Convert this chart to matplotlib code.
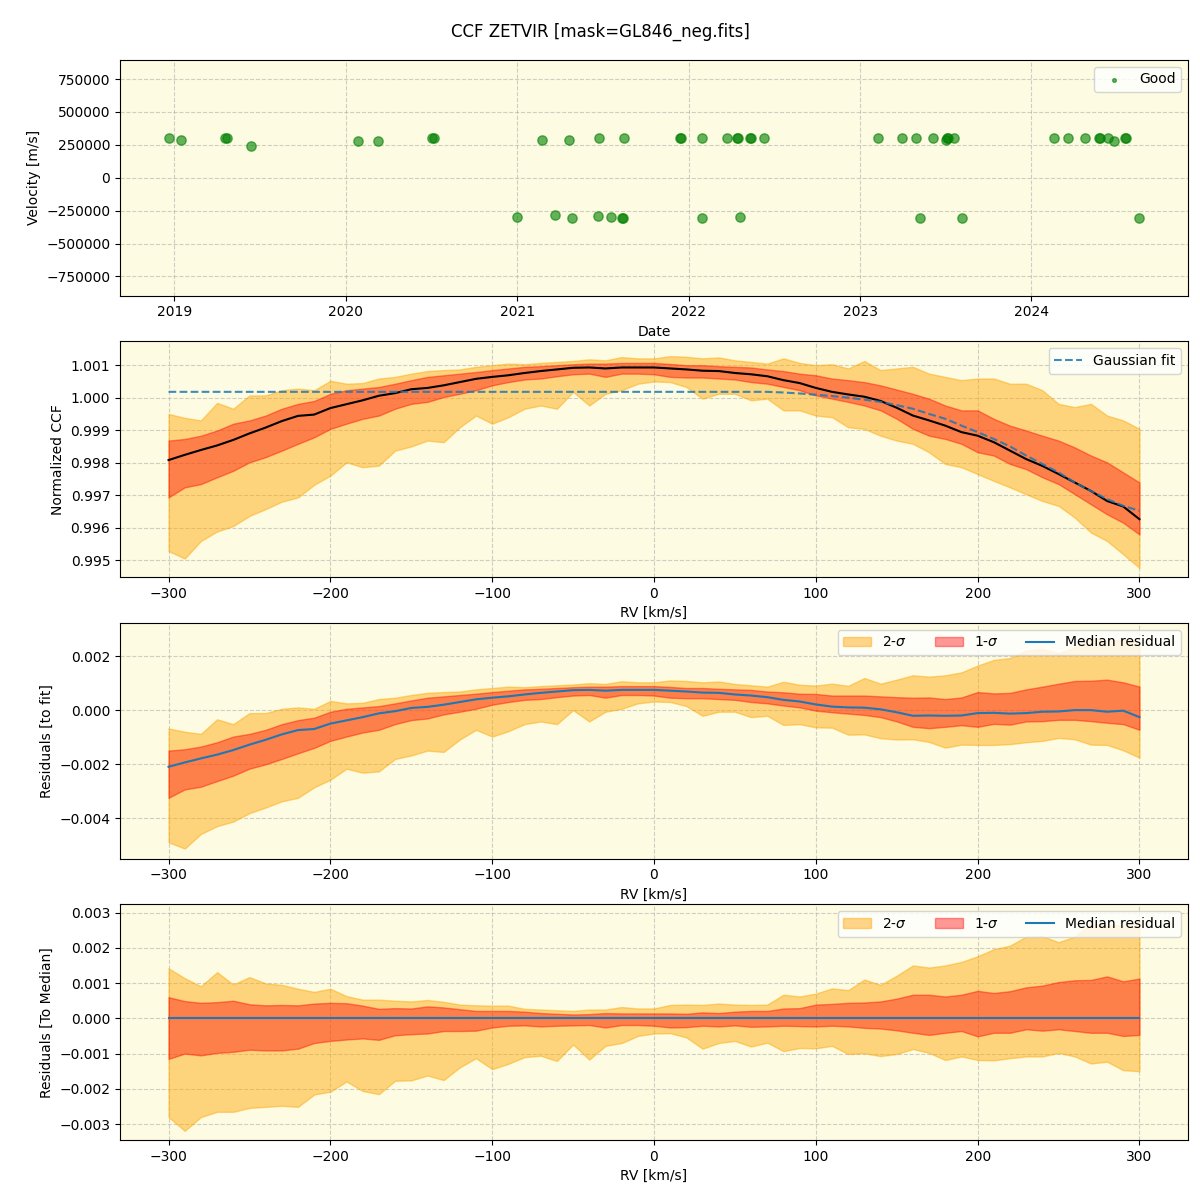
import numpy as np
import pandas as pd
import matplotlib
matplotlib.use("Agg")
import matplotlib.pyplot as plt
import matplotlib.dates as mdates

# ---------------- data ----------------
obs_dates = [
    "2018-12-20", "2019-01-16", "2019-04-20", "2019-04-23", "2019-06-13",
    "2020-01-27", "2020-03-10", "2020-07-03", "2020-07-07",
    "2021-02-22", "2021-04-22", "2021-06-23", "2021-08-17",
    "2021-12-13", "2021-12-15", "2022-01-29", "2022-03-24", "2022-04-14",
    "2022-04-16", "2022-05-12", "2022-05-14", "2022-06-11",
    "2023-02-08", "2023-03-31", "2023-04-30", "2023-06-05", "2023-07-03",
    "2023-07-05", "2023-07-07", "2023-07-21",
    "2024-02-18", "2024-03-18", "2024-04-24", "2024-05-24", "2024-05-26",
    "2024-06-13", "2024-06-24", "2024-07-19", "2024-07-21",
    "2021-01-01", "2021-03-23", "2021-04-27", "2021-06-21", "2021-07-20",
    "2021-08-12", "2021-08-14", "2022-01-29", "2022-04-21", "2023-05-08",
    "2023-08-07", "2024-08-18",
]
obs_velocity = [
    301000, 286000, 301000, 301000, 240000,
    278000, 278000, 301000, 301000,
    286000, 286000, 301000, 301000,
    301000, 301000, 301000, 301000, 301000,
    301000, 301000, 301000, 301000,
    301000, 301000, 301000, 301000, 288000,
    301000, 301000, 301000,
    301000, 301000, 301000, 301000, 301000,
    301000, 278000, 301000, 301000,
    -296000, -281000, -306000, -291000, -296000,
    -306000, -306000, -306000, -299000, -306000,
    -306000, -306000,
]

rv = np.arange(-300, 301, 10)

ccf_median = [
    0.99808, 0.99824, 0.99839, 0.99853, 0.99870, 0.99890, 0.99908, 0.99928, 0.99944, 0.99948,
    0.99968, 0.99980, 0.99992, 1.00006, 1.00014, 1.00026, 1.00030, 1.00038, 1.00048, 1.00058,
    1.00064, 1.00069, 1.00076, 1.00082, 1.00087, 1.00092, 1.00093, 1.00090, 1.00093, 1.00093,
    1.00093,
    1.00090, 1.00087, 1.00083, 1.00082, 1.00076, 1.00072, 1.00066, 1.00054, 1.00045, 1.00030,
    1.00018, 1.00010, 1.00003, 0.99990, 0.99969, 0.99945, 0.99930, 0.99914, 0.99894, 0.99883,
    0.99863, 0.99837, 0.99811, 0.99790, 0.99765, 0.99739, 0.99713, 0.99682, 0.99665, 0.99626,
]

gauss_fit = [
    1.00018, 1.00018, 1.00018, 1.00018, 1.00018, 1.00018, 1.00018, 1.00018, 1.00018, 1.00018,
    1.00018, 1.00018, 1.00018, 1.00018, 1.00018, 1.00018, 1.00018, 1.00018, 1.00018, 1.00018,
    1.00018, 1.00018, 1.00018, 1.00018, 1.00018, 1.00018, 1.00018, 1.00018, 1.00018, 1.00018,
    1.00018,
    1.00018, 1.00018, 1.00018, 1.00018, 1.00018, 1.00018, 1.00018, 1.00016, 1.00013, 1.00009,
    1.00005, 1.00000, 0.99994, 0.99987, 0.99977, 0.99966, 0.99950, 0.99935, 0.99914, 0.99894,
    0.99873, 0.99850, 0.99822, 0.99796, 0.99770, 0.99739, 0.99713, 0.99688, 0.99667, 0.99652,
]

ccf_2sig_hi = [
    0.99950, 0.99938, 0.99930, 0.99984, 0.99966, 1.00007, 1.00007, 1.00023, 1.00028, 1.00023,
    1.00052, 1.00043, 1.00045, 1.00059, 1.00064, 1.00074, 1.00082, 1.00085, 1.00087, 1.00095,
    1.00100, 1.00105, 1.00103, 1.00107, 1.00110, 1.00113, 1.00118, 1.00115, 1.00125, 1.00121,
    1.00121,
    1.00128, 1.00126, 1.00121, 1.00124, 1.00115, 1.00110, 1.00105, 1.00121, 1.00107, 1.00100,
    1.00103, 1.00090, 1.00113, 1.00085, 1.00090, 1.00095, 1.00074, 1.00064, 1.00054, 1.00059,
    1.00059, 1.00043, 1.00043, 1.00023, 0.99981, 0.99971, 0.99981, 0.99945, 0.99930, 0.99904,
]

ccf_2sig_lo = [
    0.99528, 0.99505, 0.99559, 0.99588, 0.99605, 0.99636, 0.99657, 0.99680, 0.99693, 0.99732,
    0.99760, 0.99801, 0.99786, 0.99791, 0.99837, 0.99850, 0.99868, 0.99863, 0.99909, 0.99945,
    0.99920, 0.99940, 0.99966, 0.99976, 0.99966, 1.00018, 0.99976, 1.00012, 1.00023, 1.00043,
    1.00050,
    1.00048, 1.00033, 0.99997, 1.00012, 1.00012, 0.99992, 0.99997, 0.99961, 0.99961, 0.99945,
    0.99940, 0.99909, 0.99904, 0.99883, 0.99868, 0.99858, 0.99832, 0.99796, 0.99786, 0.99765,
    0.99744, 0.99724, 0.99703, 0.99682, 0.99667, 0.99631, 0.99585, 0.99559, 0.99518, 0.99476,
]

ccf_1sig_hi = [
    0.99868, 0.99873, 0.99883, 0.99899, 0.99920, 0.99930, 0.99945, 0.99966, 0.99981, 0.99990,
    1.00012, 1.00023, 1.00028, 1.00033, 1.00043, 1.00054, 1.00064, 1.00069, 1.00074, 1.00079,
    1.00085, 1.00090, 1.00095, 1.00097, 1.00100, 1.00103, 1.00105, 1.00105, 1.00107, 1.00107,
    1.00107,
    1.00104, 1.00100, 1.00100, 1.00097, 1.00095, 1.00093, 1.00087, 1.00082, 1.00074, 1.00069,
    1.00059, 1.00054, 1.00048, 1.00038, 1.00025, 1.00012, 0.99997, 0.99976, 0.99961, 0.99961,
    0.99935, 0.99914, 0.99899, 0.99883, 0.99868, 0.99847, 0.99822, 0.99801, 0.99770, 0.99739,
]

ccf_1sig_lo = [
    0.99693, 0.99724, 0.99734, 0.99755, 0.99775, 0.99801, 0.99817, 0.99837, 0.99858, 0.99878,
    0.99904, 0.99920, 0.99935, 0.99945, 0.99966, 0.99981, 0.99987, 1.00002, 1.00012, 1.00023,
    1.00038, 1.00048, 1.00056, 1.00059, 1.00066, 1.00072, 1.00074, 1.00064, 1.00074, 1.00074,
    1.00072,
    1.00064, 1.00062, 1.00062, 1.00059, 1.00056, 1.00048, 1.00043, 1.00033, 1.00023, 1.00007,
    0.99997, 0.99987, 0.99976, 0.99961, 0.99935, 0.99904, 0.99883, 0.99873, 0.99858, 0.99832,
    0.99822, 0.99796, 0.99780, 0.99755, 0.99734, 0.99703, 0.99672, 0.99641, 0.99615, 0.99579,
]

# ---------------- figure ----------------
BG = "#fdfbe1"
C2 = "orange"
C1 = "red"

fig, axes = plt.subplots(4, 1, figsize=(12, 12), dpi=100)
fig.subplots_adjust(left=0.1, right=0.99, top=0.95, bottom=0.05, hspace=0.195)
fig.suptitle("CCF ZETVIR [mask=GL846_neg.fits]", fontsize=12, y=0.981)

for ax in axes:
    ax.set_facecolor(BG)
    ax.grid(True, linestyle="--", alpha=0.6)
    ax.set_axisbelow(True)

# Panel 1: velocities vs date
ax = axes[0]
dates = pd.to_datetime(obs_dates)
ax.scatter(dates, obs_velocity, s=45, color="green", edgecolors="green",
           linewidths=1.0, alpha=0.6, label="Good")
ax.set_ylim(-895000, 895000)
ax.set_yticks([-750000, -500000, -250000, 0, 250000, 500000, 750000])
ax.xaxis.set_major_locator(mdates.YearLocator())
ax.xaxis.set_major_formatter(mdates.DateFormatter("%Y"))
ax.set_xlabel("Date")
ax.set_ylabel("Velocity [m/s]")
ax.legend(loc="upper right", markerscale=0.4)

med = np.array(ccf_median)
fit = np.array(gauss_fit)
h2 = np.array(ccf_2sig_hi)
l2 = np.array(ccf_2sig_lo)
h1 = np.array(ccf_1sig_hi)
l1 = np.array(ccf_1sig_lo)

# Panel 2: normalized CCF
ax = axes[1]
ax.fill_between(rv, l2, h2, color=C2, alpha=0.45)
ax.fill_between(rv, l1, h1, color=C1, alpha=0.4)
ax.plot(rv, med, color="black", lw=1.5)
ax.plot(rv, fit, color="C0", ls="--", lw=1.5, alpha=0.85, label="Gaussian fit")
ax.set_xlim(-330, 330)
ax.set_ylim(0.99448, 1.00173)
ax.ticklabel_format(axis="y", useOffset=False)
ax.set_xlabel("RV [km/s]")
ax.set_ylabel("Normalized CCF")
ax.legend(loc="upper right")

# Panel 3: residuals to fit
ax = axes[2]
ax.fill_between(rv, l2 - fit, h2 - fit, color=C2, alpha=0.45, label=r"2-$\sigma$")
ax.fill_between(rv, l1 - fit, h1 - fit, color=C1, alpha=0.4, label=r"1-$\sigma$")
ax.plot(rv, med - fit, color="C0", lw=1.5, label="Median residual")
ax.set_xlim(-330, 330)
ax.set_ylim(-0.0055, 0.00323)
ax.set_yticks([-0.004, -0.002, 0.0, 0.002])
ax.ticklabel_format(axis="y", useOffset=False)
ax.set_xlabel("RV [km/s]")
ax.set_ylabel("Residuals [to fit]")
ax.legend(loc="upper right", ncol=3)

# Panel 4: residuals to median
ax = axes[3]
ax.fill_between(rv, l2 - med, h2 - med, color=C2, alpha=0.45, label=r"2-$\sigma$")
ax.fill_between(rv, l1 - med, h1 - med, color=C1, alpha=0.4, label=r"1-$\sigma$")
ax.plot(rv, med - med, color="C0", lw=1.5, label="Median residual")
ax.set_xlim(-330, 330)
ax.set_ylim(-0.00345, 0.00323)
ax.set_yticks([-0.003, -0.002, -0.001, 0.0, 0.001, 0.002, 0.003])
ax.ticklabel_format(axis="y", useOffset=False)
ax.set_xlabel("RV [km/s]")
ax.set_ylabel("Residuals [To Median]")
ax.legend(loc="upper right", ncol=3)

fig.savefig("out.png", dpi=100)
